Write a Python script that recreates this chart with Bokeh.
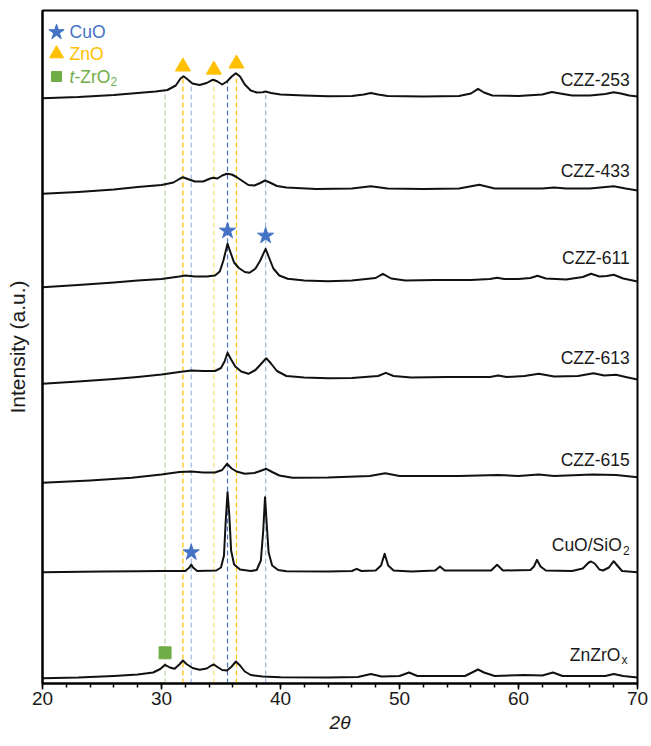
import numpy as np
from bokeh.plotting import figure
from bokeh.models import Range1d, SingleIntervalTicker, FixedTicker
from bokeh.core.properties import value
from bokeh.embed import file_html
from bokeh.resources import INLINE

FONT = "Liberation Sans"

# ---------------- data ----------------
samples = ["CZZ-253", "CZZ-433", "CZZ-611", "CZZ-613", "CZZ-615", "CuO/SiO2", "ZnZrOx"]

tt_czz253 = [20, 23, 26, 28, 29.5, 30.5, 31.2, 31.6, 31.85, 32.1, 32.6, 33.2, 33.8, 34.2, 34.4, 34.7, 35.1, 35.5,
             35.9, 36.25, 36.6, 37.0, 37.5, 38.0, 38.5, 38.75, 39.2, 40, 42, 44, 46, 47.0, 47.6, 48.2, 49, 52, 55,
             56.0, 56.6, 57.1, 57.8, 60, 62, 62.8, 63.5, 64.5, 66, 67.3, 68.0, 68.6, 69.3, 70]
int_czz253 = [-1.7, -0.5, 1.5, 3.5, 5, 6.5, 11, 18, 20.3, 18, 13, 11.5, 13.5, 16.2, 16.7, 15, 12, 15,
              20, 23.3, 20, 12, 6, 4, 4.2, 5, 3.5, 2, 1, 0.2, 0.5, 2, 3.5, 2, 0.5, 0, 0.5,
              3, 7.7, 4, 1, 0.5, 2, 4.5, 3, 1, 1, 2.5, 4.3, 3, 1, 0]

tt_czz433 = [20, 23, 26, 28, 30, 31.0, 31.5, 31.8, 32.2, 32.8, 33.5, 34.1, 34.35, 34.7, 35.1, 35.5, 35.9, 36.3,
             36.8, 37.3, 37.8, 38.3, 38.7, 39.1, 39.7, 40.5, 43, 46, 47.6, 49, 52, 55, 56.7, 58, 62, 63, 64, 66,
             68, 69, 70]
int_czz433 = [-3.3, -1.5, 1, 3.5, 5.5, 8, 11.5, 13.3, 11.5, 9, 9, 12, 12.7, 12, 15, 16.7, 16, 13.5,
              9.5, 5.5, 5, 7.5, 10, 8, 4.5, 3, 1.5, 2, 4.3, 2, 1.5, 2, 5.7, 2, 2, 3, 2, 2,
              4.3, 2, 0]

tt_czz611 = [20, 23, 26, 28, 30, 31.5, 32, 32.8, 33.8, 34.5, 34.9, 35.2, 35.55, 35.8, 36.1, 36.5, 37.0, 37.4,
             37.9, 38.3, 38.75, 39.0, 39.4, 39.9, 40.6, 42, 44, 46, 48.0, 48.6, 49.3, 50.5, 53, 56, 57.6, 58.2,
             58.8, 60, 61.0, 61.6, 62.3, 64, 65.4, 66.1, 66.8, 67.4, 68.0, 68.8, 70]
int_czz611 = [-5.7, -3.5, -1, 1, 2.5, 5, 6, 5, 5, 6, 10, 21, 37.7, 29, 19, 13.5, 9.5, 8.7,
              13, 21, 32.7, 25, 13, 6, 2.7, 1, 0.3, 1, 3.5, 7.7, 3, 1, 1.5, 1.5, 2.5, 3.7,
              2.5, 2.5, 3.5, 5.7, 3, 2, 4.5, 7.7, 5, 5.5, 6.7, 3, 0]

tt_czz613 = [20, 23, 26, 28, 30, 31.5, 32.5, 33.5, 34.5, 35.0, 35.3, 35.55, 35.85, 36.2, 36.7, 37.3, 37.9, 38.4,
             38.8, 39.2, 39.7, 40.5, 42, 44, 46, 48.2, 48.85, 49.5, 51, 54, 57.6, 58.3, 59, 60.5, 61.7, 63, 65,
             66.3, 67.2, 68.2, 69, 70]
int_czz613 = [-4.3, -2, 0.5, 2.5, 5, 7.5, 9, 8.5, 8.5, 11.5, 18, 26.7, 20, 13, 8, 5.7, 9.5, 16,
              21.3, 16, 8.5, 3.5, 2, 1.3, 1.5, 3.5, 6.7, 3.5, 2, 2.5, 2.5, 4, 2.5, 3.5, 5.7, 3, 3.5,
              6.3, 4, 4.7, 2.5, 0]

tt_czz615 = [20, 24, 27.5, 30, 31.5, 32.5, 33.5, 34.5, 35.1, 35.5, 35.9, 36.3, 37.0, 37.8, 38.3, 38.8, 39.3,
             39.9, 41, 44, 47.5, 48.8, 50, 55, 58.3, 60, 61.7, 63, 66.2, 68.2, 70]
int_czz615 = [-5.3, -3, -0.3, 3, 5.5, 6, 5, 5, 7.5, 13.7, 9, 6, 3.7, 4.5, 6.5, 8.7, 5.5,
              2, -0.3, 0, 1.5, 4.3, 1.5, 1.5, 2.5, 1.5, 3, 1.5, 3, 2.5, 0.3]

tt_cuosio2 = [20, 25, 28, 30, 32.0, 32.35, 32.5, 32.65, 33.0, 34.6, 35.0, 35.25, 35.4, 35.55, 35.7, 35.85, 36.1,
              36.6, 37.5, 38.0, 38.35, 38.55, 38.7, 38.85, 39.0, 39.3, 39.8, 40.5, 44, 46.0, 46.4, 46.8, 48.0,
              48.45, 48.75, 49.05, 49.5, 51, 53.0, 53.4, 53.8, 57.7, 58.2, 58.7, 61.0, 61.3, 61.55, 61.85, 62.3,
              64.5, 65.4, 65.9, 66.1, 66.4, 66.8, 67.1, 67.6, 68.0, 68.3, 68.7, 70]
int_cuosio2 = [-0.2, 0.5, 0.8, 1, 1, 4.5, 7.5, 4.5, 1, 1.5, 4.5, 16.5, 51.5, 79.8, 56.5, 21.5, 7.5,
               2.5, 1, 2, 11.5, 41.5, 74.8, 46.5, 19.5, 6.5, 2, 0.8, 0.5, 1, 3.2, 1, 1.5,
               6.5, 18.2, 6.5, 1.5, 0.5, 1.5, 5.5, 1.5, 1.5, 7.2, 1.5, 2, 5.5, 12.2, 5.5, 1.5,
               1, 3.5, 9.5, 10.5, 8.5, 2.5, 1.5, 4.5, 10.8, 6.5, 1, -0.2]

tt_znzrox = [20, 23, 26, 28, 29.3, 29.9, 30.3, 30.7, 31.1, 31.5, 31.8, 32.1, 32.6, 33.2, 33.8, 34.2, 34.4, 34.7,
             35.1, 35.5, 35.9, 36.25, 36.6, 37.0, 37.5, 38.5, 40, 44, 46.5, 47.6, 48.5, 50.0, 50.8, 51.5, 55.5,
             56.1, 56.6, 57.1, 58, 60.5, 62.0, 62.9, 63.7, 67.3, 68.0, 68.8, 70]
int_znzrox = [-0.7, 0, 1.5, 3, 5, 8.5, 12.7, 10, 8.7, 13, 17, 13.5, 9.5, 7.7, 9, 12, 13, 10.5,
              7.5, 7, 11, 16, 12, 6, 2.5, 1, 0.3, 0, 0.5, 3.5, 1, 1.5, 5, 1.5, 1.5,
              5, 8, 5, 1.5, 2.5, 2, 5, 1.5, 1.5, 3.5, 1.5, 0]

two_theta = [tt_czz253, tt_czz433, tt_czz611, tt_czz613, tt_czz615, tt_cuosio2, tt_znzrox]
intensity = [int_czz253, int_czz433, int_czz611, int_czz613, int_czz615, int_cuosio2, int_znzrox]

# vertical stacking offsets (a.u.)
offsets = [587, 493, 402, 304, 206, 111.5, 6]

# reference reflections (2theta)
cuo_pos = [32.5, 35.55, 38.75]
zno_pos = [31.8, 34.4, 36.3]
zro2_pos = [30.3]

# ---------------- figure ----------------
p = figure(width=651, height=746, output_backend="svg", toolbar_location=None,
           x_range=Range1d(20, 70), y_range=Range1d(0, 673),
           min_border_left=42, min_border_right=14, min_border_top=10, min_border_bottom=63)
p.background_fill_color = "white"
p.border_fill_color = "white"
p.outline_line_color = "black"
p.outline_line_width = 2
p.xgrid.visible = False
p.ygrid.visible = False

TXT = "#1a1a1a"

xa = p.xaxis[0]
xa.ticker = SingleIntervalTicker(interval=10, num_minor_ticks=5)
xa.axis_line_width = 2
xa.major_tick_line_width = 1.5
xa.minor_tick_line_width = 1.5
xa.major_tick_out = 6
xa.major_tick_in = 0
xa.minor_tick_out = 4
xa.minor_tick_in = 0
xa.major_label_standoff = 2
xa.major_label_text_font = FONT
xa.major_label_text_font_size = "19px"
xa.major_label_text_color = TXT
xa.axis_label = "2θ"
xa.axis_label_text_font = FONT
xa.axis_label_text_font_size = "19px"
xa.axis_label_text_font_style = "italic"
xa.axis_label_text_color = TXT
xa.axis_label_standoff = 4

ya = p.yaxis[0]
ya.ticker = FixedTicker(ticks=[])
ya.axis_line_width = 2
ya.major_tick_out = 0
ya.minor_tick_out = 0
ya.axis_label = "Intensity (a.u.)"
ya.axis_label_text_font = FONT
ya.axis_label_text_font_size = "21px"
ya.axis_label_text_font_style = "normal"
ya.axis_label_text_color = TXT
ya.axis_label_standoff = 14

BLUE = "#4472C4"
ORANGE = "#FFC000"
GREEN = "#70AD47"

# dashed reference lines, from the axis up to the top pattern
top_x = np.array(two_theta[0])
top_y = np.array(intensity[0]) + offsets[0]
ref_pos = zro2_pos + zno_pos + cuo_pos
ref_col = [GREEN] * len(zro2_pos) + [ORANGE] * len(zno_pos) + [BLUE] * len(cuo_pos)
ref_alpha = [0.55, 1.0, 0.55, 1.0, 0.5, 1.0, 0.5]
ref_top = [float(np.interp(x, top_x, top_y)) for x in ref_pos]
p.segment(x0=ref_pos, y0=[0] * len(ref_pos), x1=ref_pos, y1=ref_top,
          line_color=ref_col, line_alpha=ref_alpha, line_width=1.2, line_dash="5 3")

# patterns
for tt, iv, off in zip(two_theta, intensity, offsets):
    p.line(tt, np.array(iv) + off, line_color="#111111", line_width=2, line_join="round")

# phase markers above the peaks
def peak_top(k, x):
    return float(np.interp(x, two_theta[k], intensity[k])) + offsets[k]

tri_x = zno_pos
tri_y = [peak_top(0, x) + 10 for x in tri_x]
p.scatter(tri_x, tri_y, marker="triangle", size=15, fill_color=ORANGE, line_color=ORANGE)

star_x = [cuo_pos[1], cuo_pos[2], cuo_pos[0]]
star_y = [peak_top(2, cuo_pos[1]) + 13, peak_top(2, cuo_pos[2]) + 13, peak_top(5, cuo_pos[0]) + 12]
p.scatter(star_x, star_y, marker="star", size=17, fill_color=BLUE, line_color=BLUE)

sq_x = zro2_pos
sq_y = [peak_top(6, x) + 12 for x in sq_x]
p.scatter(sq_x, sq_y, marker="square", size=12, fill_color=GREEN, line_color=GREEN)

# sample labels (right aligned)
lab_x = 69.35
lab_y = [604, 512.6, 425.6, 325.5, 223.2, 138.3, 28.6]
txt_kw = dict(text_font=value(FONT), text_font_size="17.5px", text_color=TXT,
              text_align="right", text_baseline="middle")
sub_kw = dict(text_font=value(FONT), text_font_size="12px", text_color=TXT,
              text_align="right", text_baseline="middle")
p.text(x=[lab_x] * 5, y=lab_y[:5], text=samples[:5], **txt_kw)
p.text(x=[lab_x], y=[lab_y[5]], text=["CuO/SiO"], x_offset=-8, **txt_kw)
p.text(x=[lab_x], y=[lab_y[5]], text=["2"], y_offset=5, **sub_kw)
p.text(x=[lab_x - 0.2], y=[lab_y[6]], text=["ZnZrO"], x_offset=-7, **txt_kw)
p.text(x=[lab_x - 0.2], y=[lab_y[6]], text=["x"], y_offset=5, **sub_kw)

# legend (top-left)
lg_mx = 21.18
lg_tx = 22.27
lg_y = [651.3, 629.7, 607]
p.scatter([lg_mx], [lg_y[0]], marker="star", size=16, fill_color=BLUE, line_color=BLUE)
p.scatter([lg_mx], [lg_y[1]], marker="triangle", size=14, fill_color=ORANGE, line_color=ORANGE)
p.scatter([lg_mx], [lg_y[2]], marker="square", size=10, fill_color=GREEN, line_color=GREEN)
lg_kw = dict(text_font=value(FONT), text_font_size="17.5px", text_align="left", text_baseline="middle")
p.text(x=[lg_tx], y=[lg_y[0]], text=["CuO"], text_color=BLUE, **lg_kw)
p.text(x=[lg_tx], y=[lg_y[1]], text=["ZnO"], text_color=ORANGE, **lg_kw)
p.text(x=[lg_tx], y=[lg_y[2]], text=["t"], text_color=GREEN, text_font_style="italic", **lg_kw)
p.text(x=[lg_tx], y=[lg_y[2]], text=["-ZrO"], text_color=GREEN, x_offset=5, **lg_kw)
p.text(x=[lg_tx], y=[lg_y[2]], text=["2"], text_color=GREEN, x_offset=41, y_offset=5,
       text_font=value(FONT), text_font_size="12px", text_align="left", text_baseline="middle")

open("out.html", "w").write(file_html(p, INLINE))
